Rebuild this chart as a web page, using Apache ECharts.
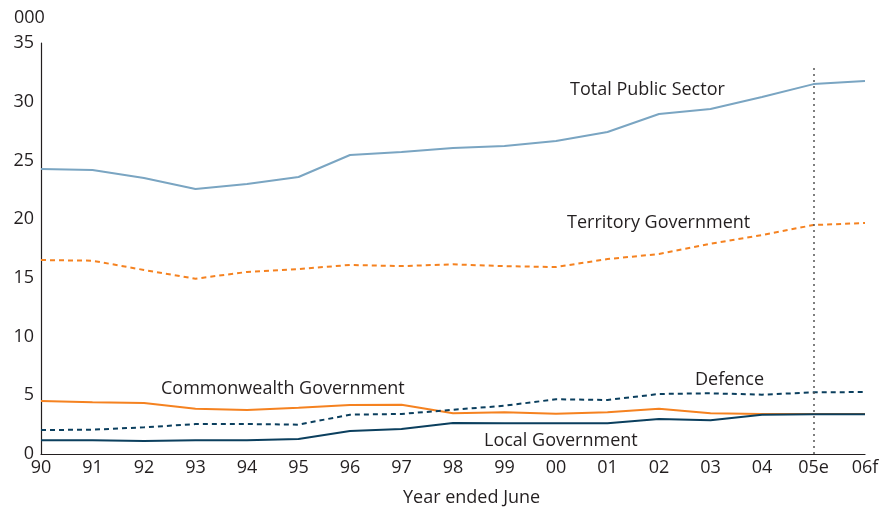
<!DOCTYPE html>
<html><head><meta charset="utf-8">
<script src="https://cdn.jsdelivr.net/npm/echarts@6/dist/echarts.min.js"></script>
<style>html,body{margin:0;padding:0;background:#fff}#c{width:888px;height:511px}</style>
</head><body><div id="c"></div>
<script>
const categories = ['90','91','92','93','94','95','96','97','98','99','00','01','02','03','04','05e','06f'];
const totalPublic = [24.27,24.18,23.5,22.57,22.99,23.59,25.46,25.72,26.06,26.23,26.65,27.42,28.95,29.38,30.4,31.5,31.76];
const territory = [16.52,16.46,15.67,14.93,15.5,15.75,16.1,16.0,16.15,16.0,15.92,16.6,17.03,17.9,18.65,19.5,19.67];
const commonwealth = [4.51,4.40,4.34,3.86,3.75,3.94,4.17,4.2,3.47,3.55,3.43,3.55,3.86,3.47,3.41,3.41,3.41];
const defence = [2.04,2.07,2.27,2.55,2.55,2.5,3.35,3.41,3.77,4.11,4.66,4.6,5.11,5.17,5.05,5.25,5.28];
const localGov = [1.17,1.17,1.1,1.17,1.17,1.28,1.96,2.13,2.64,2.61,2.61,2.61,2.98,2.87,3.35,3.38,3.38];
const yTicks = [0,5,10,15,20,25,30,35];
const seriesNames = ['Total Public Sector','Territory Government','Commonwealth Government','Defence','Local Government'];
const xAxisTitle = 'Year ended June';
const yUnit = '000';

const FONT = '"Open Sans", "Noto Sans", sans-serif';
const TXT = '#231f20';
const FS = 18;
const chart = echarts.init(document.getElementById('c'), null, {renderer:'canvas'});
function lineSeries(name, data, color, type, width){
  return {name, type:'line', data, symbol:'none', silent:true,
    lineStyle:{color, width, type}, itemStyle:{color}, z:3};
}
const labelStyle = (x,y,text)=>({type:'text', left:x, top:y, style:{text, fill:TXT, font:FS+'px '+FONT}});
chart.setOption({
  animation:false,
  grid:{left:41, right:23, top:43, bottom:57, containLabel:false, outerBoundsMode:'none'},
  xAxis:{type:'category', data:categories, boundaryGap:false,
    axisLine:{lineStyle:{color:'#231f20', width:1.2}}, axisTick:{show:false},
    axisLabel:{color:TXT, fontSize:FS, fontFamily:FONT, margin:5, interval:0},
    splitLine:{show:false}},
  yAxis:{type:'value', min:0, max:35, interval:5,
    axisLine:{show:true, lineStyle:{color:'#231f20', width:1.2}}, axisTick:{show:false},
    axisLabel:{color:TXT, fontSize:FS, fontFamily:FONT, margin:7,
      formatter:v=> yTicks.includes(v) ? String(v) : ''},
    splitLine:{show:false}},
  series:[
    lineSeries(seriesNames[0], totalPublic, '#7aa5c2', 'solid', 2),
    lineSeries(seriesNames[1], territory, '#f58220', [5,4], 2),
    lineSeries(seriesNames[2], commonwealth, '#f58220', 'solid', 2),
    lineSeries(seriesNames[3], defence, '#0b3f5e', [5,4], 2),
    Object.assign(lineSeries(seriesNames[4], localGov, '#0b3f5e', 'solid', 2), {
      markLine:{silent:true, symbol:'none', label:{show:false},
        lineStyle:{color:'#555', type:[2,4], width:1.5},
        data:[[{coord:['05e',0]},{coord:['05e',33.2]}]]}
    })
  ],
  graphic:[
    {type:'text', left:14, top:9, style:{text:yUnit, fill:TXT, font:FS+'px '+FONT}},
    {type:'text', left:403, top:489, style:{text:xAxisTitle, fill:TXT, font:FS+'px '+FONT}},
    labelStyle(570,81,seriesNames[0]),
    labelStyle(567,214,seriesNames[1]),
    labelStyle(161,380,seriesNames[2]),
    labelStyle(695,371,seriesNames[3]),
    labelStyle(484,432,seriesNames[4])
  ]
});
</script></body></html>
